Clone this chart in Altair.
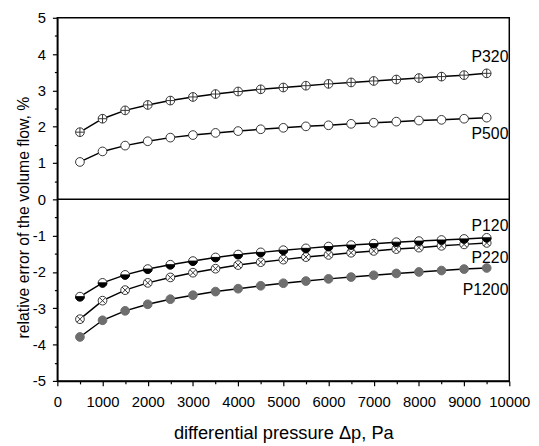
import altair as alt
import pandas as pd

dp = [500, 1000, 1500, 2000, 2500, 3000, 3500, 4000, 4500, 5000,
      5500, 6000, 6500, 7000, 7500, 8000, 8500, 9000, 9500]

p320 = [1.85, 2.22, 2.45, 2.60, 2.72, 2.82, 2.90, 2.97, 3.03, 3.08,
        3.13, 3.18, 3.22, 3.26, 3.30, 3.34, 3.38, 3.42, 3.47]
p500 = [1.03, 1.32, 1.48, 1.60, 1.70, 1.77, 1.83, 1.88, 1.93, 1.97,
        2.01, 2.04, 2.08, 2.11, 2.14, 2.17, 2.19, 2.22, 2.25]
p120 = [-2.68, -2.30, -2.08, -1.92, -1.80, -1.70, -1.60, -1.52, -1.46, -1.40,
        -1.35, -1.30, -1.26, -1.22, -1.18, -1.15, -1.12, -1.09, -1.06]
p220 = [-3.30, -2.79, -2.50, -2.30, -2.15, -2.02, -1.91, -1.81, -1.73, -1.66,
        -1.59, -1.53, -1.47, -1.42, -1.37, -1.33, -1.28, -1.24, -1.20]
p1200 = [-3.79, -3.33, -3.07, -2.89, -2.75, -2.64, -2.54, -2.46, -2.38, -2.31,
         -2.25, -2.19, -2.14, -2.09, -2.04, -2.00, -1.96, -1.92, -1.89]

x_major = [0, 1000, 2000, 3000, 4000, 5000, 6000, 7000, 8000, 9000, 10000]
x_minor = [500, 1500, 2500, 3500, 4500, 5500, 6500, 7500, 8500, 9500]
y_major = [-5, -4, -3, -2, -1, 0, 1, 2, 3, 4, 5]
y_minor = [-4.5, -3.5, -2.5, -1.5, -0.5, 0.5, 1.5, 2.5, 3.5, 4.5]

series = {"P320": p320, "P500": p500, "P120": p120, "P220": p220, "P1200": p1200}

rows = []
for name, vals in series.items():
    for x, y in zip(dp, vals):
        rows.append({"series": name, "dp": x, "err": y})
df = pd.DataFrame(rows)

FONT = "Liberation Sans"
W, H = 458, 368

xs = alt.Scale(domain=[0, 10000], nice=False)
ys = alt.Scale(domain=[-5, 5], nice=False)

x_major_enc = alt.X("dp:Q", scale=xs, axis=alt.Axis(
    orient="bottom", values=x_major, format="d", labelOverlap=False, labelFlush=False,
    tickSize=5, labelPadding=9, labelFontSize=15,
    title="differential pressure \u0394p, Pa", titleFontSize=18.5, titleFontWeight="normal",
    titleX=W / 2, titleY=58, titleBaseline="alphabetic"))
y_major_enc = alt.Y("err:Q", scale=ys, axis=alt.Axis(
    orient="left", values=y_major, labelExpr="'' + datum.value",
    labelOverlap=False, labelFlush=False, tickSize=5, labelPadding=7, labelFontSize=15,
    title="relative error of the volume  flow, %", titleFontSize=16, titleFontWeight="normal",
    titleAngle=270, titleX=-34, titleY=202, titleBaseline="middle", titleAlign="center"))

x_minor_enc = alt.X("dp:Q", scale=xs, axis=alt.Axis(
    orient="bottom", values=x_minor, labels=False, domain=False, tickSize=3, title=None))
y_minor_enc = alt.Y("err:Q", scale=ys, axis=alt.Axis(
    orient="left", values=y_minor, labels=False, domain=False, tickSize=3, title=None))

x_none = alt.X("dp:Q", scale=xs, axis=None)
y_none = alt.Y("err:Q", scale=ys, axis=None)

lines = alt.Chart(df).mark_line(color="black", strokeWidth=1.5).encode(
    x=x_major_enc, y=y_major_enc, detail="series:N")

minor = alt.Chart(df).mark_point(opacity=0).encode(x=x_minor_enc, y=y_minor_enc)

zero = alt.Chart(pd.DataFrame({"z": [0]})).mark_rule(color="black", strokeWidth=1.5).encode(
    y=alt.Y("z:Q", scale=ys, axis=None))

base = alt.Chart(df).encode(x=x_none, y=y_none)

circles = base.mark_point(shape="circle", size=78, filled=True, strokeWidth=1, opacity=1).encode(
    fill=alt.condition(alt.datum.series == "P1200", alt.value("#6e6e6e"), alt.value("white")),
    stroke=alt.condition(alt.datum.series == "P1200", alt.value("#6e6e6e"), alt.value("#333333")),
)

plus = base.transform_filter(alt.datum.series == "P320").mark_point(
    shape="M-1,0L1,0M0,-1L0,1", size=78, stroke="#333333", strokeWidth=1, opacity=1)

cross = base.transform_filter(alt.datum.series == "P220").mark_point(
    shape="M-0.7,-0.7L0.7,0.7M-0.7,0.7L0.7,-0.7", size=78, stroke="#333333", strokeWidth=1, opacity=1)

half = base.transform_filter(alt.datum.series == "P120").mark_point(
    shape="M-1,0A1,1,0,0,0,1,0Z", size=78, filled=True, fill="black", stroke="black",
    strokeWidth=1, opacity=1)

label_offsets = {"P320": -16, "P500": 17, "P120": -12, "P220": 15, "P1200": 22}
texts = []
for name, dy in label_offsets.items():
    t = base.transform_filter(
        (alt.datum.series == name) & (alt.datum.dp == 9500)
    ).mark_text(align="right", baseline="middle", dx=22, dy=dy, fontSize=16,
                font=FONT, color="black").encode(text="series:N")
    texts.append(t)

chart = alt.layer(lines, minor, zero, circles, plus, cross, half, *texts).resolve_axis(
    x="independent", y="independent"
).properties(
    width=W, height=H,
    autosize=alt.AutoSizeParams(type="none"),
    padding={"left": 50, "top": 7, "right": 22, "bottom": 60},
).configure_view(stroke="black", strokeWidth=1.5).configure_axis(
    grid=False, domainColor="black", domainWidth=1.5, tickColor="black",
    tickWidth=1.2, labelFont=FONT, titleFont=FONT, labelColor="black",
    titleColor="black",
).configure_text(font=FONT)

chart.save("out.html", embed_options={"renderer": "svg", "actions": False})
